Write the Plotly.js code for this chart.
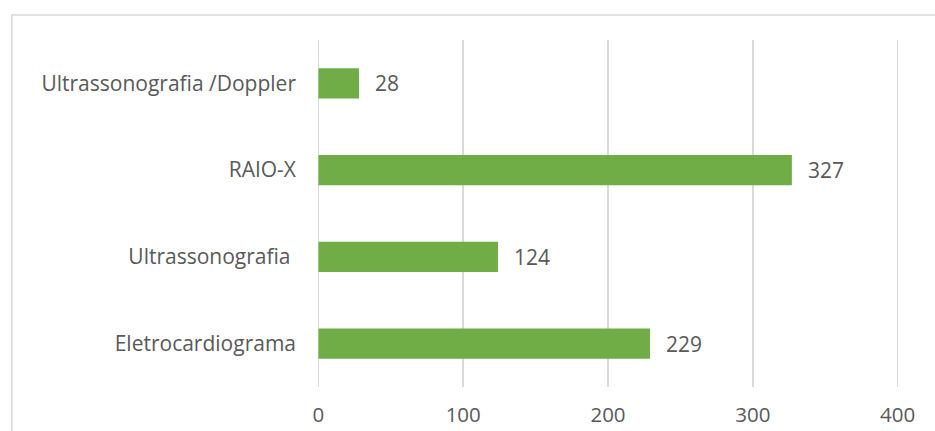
<!DOCTYPE html>
<html>
<head>
<meta charset="utf-8">
<script src="https://cdn.plot.ly/plotly-3.0.1.min.js"></script>
<style>html,body{margin:0;padding:0;background:#fff;}#chart{width:935px;height:431px;}</style>
</head>
<body>
<div id="chart"></div>
<script>
const categories = ["Ultrassonografia /Doppler", "RAIO-X", "Ultrassonografia ", "Eletrocardiograma"];
const values = [28, 327, 124, 229];
const xTicks = [0, 100, 200, 300, 400];

const font = "'Open Sans', Lato, sans-serif";
const textColor = "#595959";

const annotations = categories.map((c, i) => ({
  x: values[i], y: c, xref: "x", yref: "y",
  text: String(values[i]), showarrow: false,
  xanchor: "left", yanchor: "middle", xshift: 14,
  font: {family: font, size: 21, color: textColor}
}));

const data = [{
  type: "bar", orientation: "h",
  x: values, y: categories,
  marker: {color: "#70AD47"},
  hoverinfo: "none"
}];

// plot area: x=318.5..897.4 for range; extend range slightly so edge gridlines show
const pad = 1;
const pxPerUnit = (897.4 - 318.5) / 400;
const left = 318.5 - pad * pxPerUnit;
const plotW = (400 + 2 * pad) * pxPerUnit;
const layout = {
  width: 935, height: 431,
  margin: {l: left, r: 935 - 897.4 - pad * pxPerUnit, t: 40, b: 44},
  paper_bgcolor: "#fff", plot_bgcolor: "#fff",
  showlegend: false,
  bargap: 0.65,
  font: {family: font, size: 21, color: textColor},
  xaxis: {
    range: [-pad, 400 + pad], tickvals: xTicks, ticktext: xTicks.map(String),
    showgrid: true, gridcolor: "#d9d9d9", gridwidth: 1.5,
    zeroline: false, showline: false, ticks: "",
    ticklabelstandoff: 13,
    tickfont: {family: font, size: 20.5, color: textColor}
  },
  yaxis: {
    autorange: "reversed", type: "category",
    showgrid: false, zeroline: false, showline: false, ticks: "",
    ticklabelstandoff: 20,
    tickfont: {family: font, size: 21, color: textColor}
  },
  annotations: annotations,
  shapes: [{
    type: "rect", xref: "paper", yref: "paper",
    x0: (12 - left) / plotW, x1: 1.2,
    y0: -0.3, y1: (387 - 15) / 347,
    line: {color: "#d9d9d9", width: 1.5}, fillcolor: "rgba(0,0,0,0)", layer: "below"
  }]
};

Plotly.newPlot("chart", data, layout, {displayModeBar: false, staticPlot: true});
</script>
</body>
</html>
